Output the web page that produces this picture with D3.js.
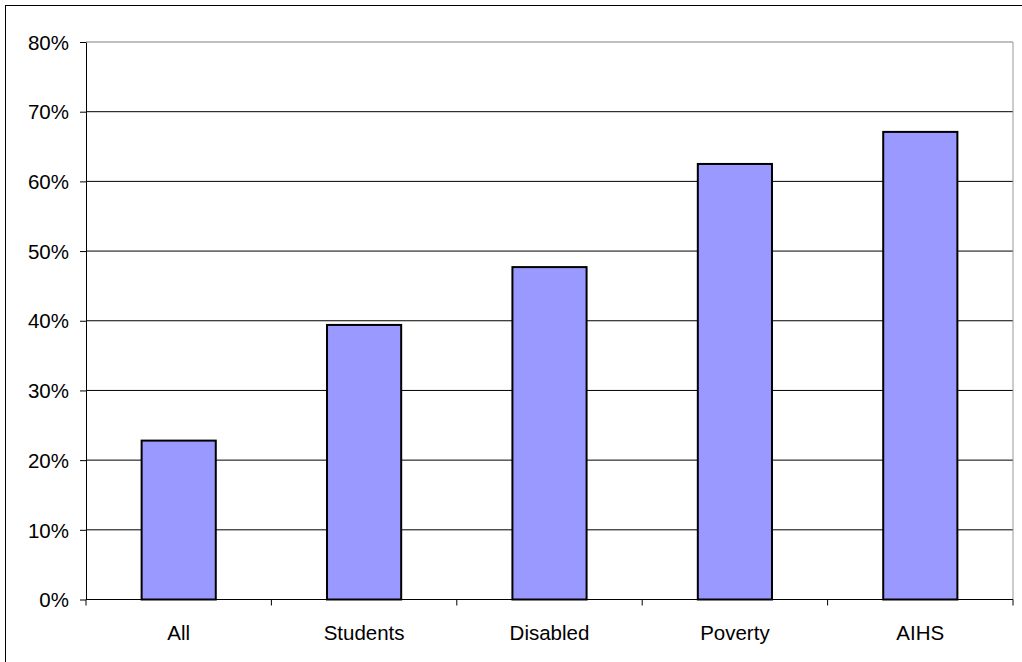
<!DOCTYPE html>
<html><head><meta charset="utf-8">
<script src="https://cdn.jsdelivr.net/npm/d3@7"></script>
<style>html,body{margin:0;padding:0;background:#fff;}svg{display:block;}</style>
</head><body>
<script>
const categories = ["All", "Students", "Disabled", "Poverty", "AIHS"];
const values = [0.228, 0.394, 0.477, 0.625, 0.671];
const yTicks = [0, 0.1, 0.2, 0.3, 0.4, 0.5, 0.6, 0.7, 0.8];

const W = 1022, H = 662;
const svg = d3.select("body").append("svg").attr("width", W).attr("height", H);
svg.append("rect").attr("x", 5.5).attr("y", 5.5).attr("width", W + 20).attr("height", H + 20)
  .attr("fill", "#fff").attr("stroke", "#000").attr("stroke-width", 1);

const mLeft = 86, mRight = 1013, mTop = 42, mBottom = 599.5;
const x = d3.scaleBand().domain(categories).range([mLeft, mRight]).paddingInner(0.6).paddingOuter(0.3);
const xb = d3.scaleBand().domain(categories).range([mLeft, mRight]);
const y = d3.scaleLinear().domain([0, 0.8]).range([mBottom, mTop]);

// gridlines
svg.append("g").selectAll("line").data(yTicks.slice(1)).join("line")
  .attr("x1", mLeft).attr("x2", mRight).attr("y1", d => y(d)).attr("y2", d => y(d))
  .attr("stroke", d => d === 0.8 ? "#808080" : "#000").attr("stroke-width", 1);
// right edge
svg.append("line").attr("x1", mRight).attr("x2", mRight).attr("y1", mTop).attr("y2", mBottom)
  .attr("stroke", "#999").attr("stroke-width", 1);

// bars
svg.append("g").selectAll("rect").data(values).join("rect")
  .attr("x", (d, i) => x(categories[i])).attr("width", x.bandwidth())
  .attr("y", d => y(d)).attr("height", d => y(0) - y(d))
  .attr("fill", "#9999FF").attr("stroke", "#000").attr("stroke-width", 2);

// y axis
const yAxis = d3.axisLeft(y).tickValues(yTicks).tickFormat(d3.format(".0%")).tickSize(6).tickSizeOuter(0);
const gy = svg.append("g").attr("transform", `translate(${mLeft},0)`).call(yAxis);
gy.select(".domain").attr("stroke", "#000");
gy.selectAll("text").attr("font-family", "Liberation Sans, Arial, sans-serif").attr("font-size", 20.5)
  .attr("fill", "#000").attr("x", -17).attr("dy", "0.35em");

// x axis
const gx = svg.append("g").attr("transform", `translate(0,${mBottom})`);
gx.append("line").attr("x1", mLeft).attr("x2", mRight).attr("y1", 0).attr("y2", 0).attr("stroke", "#000");
const edges = categories.map(c => xb(c)).concat([mRight]);
gx.selectAll("line.tk").data(edges).join("line").attr("class", "tk")
  .attr("x1", d => d).attr("x2", d => d).attr("y1", 0).attr("y2", 6).attr("stroke", "#000");
gx.selectAll("text").data(categories).join("text")
  .attr("x", d => xb(d) + xb.bandwidth() / 2).attr("y", 40).attr("text-anchor", "middle")
  .attr("font-family", "Liberation Sans, Arial, sans-serif").attr("font-size", 20.5).attr("fill", "#000")
  .text(d => d);
</script>
</body></html>
